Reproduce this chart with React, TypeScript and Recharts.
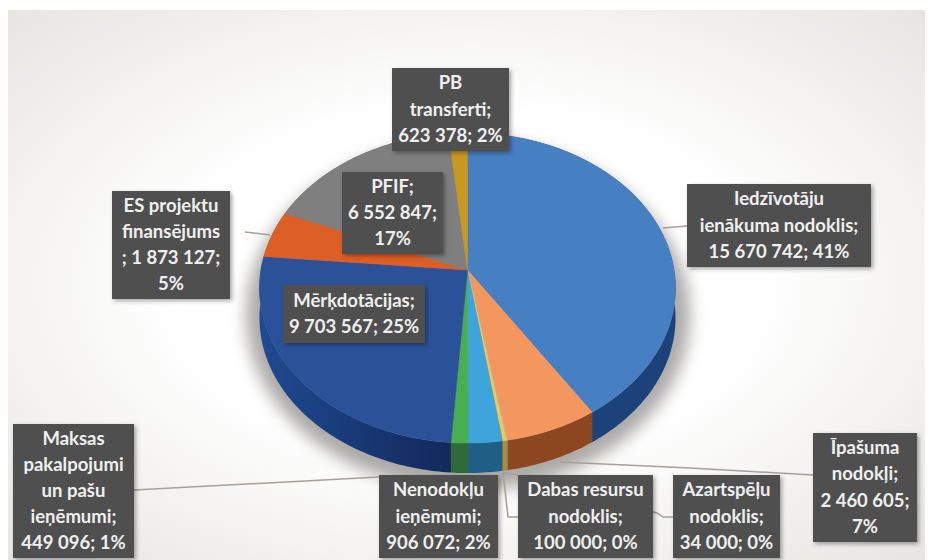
import { Pie, PieChart } from "recharts";

const categories = [
  "Iedzīvotāju ienākuma nodoklis",
  "Īpašuma nodokļi",
  "Azartspēļu nodoklis",
  "Dabas resursu nodoklis",
  "Nenodokļu ieņēmumi",
  "Maksas pakalpojumi un pašu ieņēmumi",
  "Mērķdotācijas",
  "ES projektu finansējums",
  "PFIF",
  "PB transferti",
];
const values = [15670742, 2460605, 34000, 100000, 906072, 449096, 9703567, 1873127, 6552847, 623378];
const labelLines = [
  ["Iedzīvotāju", "ienākuma nodoklis;", "15 670 742; 41%"],
  ["Īpašuma", "nodokļi;", "2 460 605;", "7%"],
  ["Azartspēļu", "nodoklis;", "34 000; 0%"],
  ["Dabas resursu", "nodoklis;", "100 000; 0%"],
  ["Nenodokļu", "ieņēmumi;", "906 072; 2%"],
  ["Maksas", "pakalpojumi", "un pašu", "ieņēmumi;", "449 096; 1%"],
  ["Mērķdotācijas;", "9 703 567; 25%"],
  ["ES projektu", "finansējums", "; 1 873 127;", "5%"],
  ["PFIF;", "6 552 847;", "17%"],
  ["PB", "transferti;", "623 378; 2%"],
];

const topColors = ["#477fc3", "#f4975f", "#b5b5b5", "#f5c84b", "#3da5dc", "#48ae50", "#2b5299", "#de5f26", "#7f7f7f", "#c9981f"];
const wallColors = ["#1c4279", "#8c4620", "#777777", "#b88a20", "#1f5e85", "#2e6b38", "url(#navyWall)", "#8c3c14", "#555555", "#8a6a14"];

// label boxes as [x, y, width, height] on the page
const boxes = [
  [687, 184, 184, 83],
  [813, 433, 104, 109],
  [673, 475, 107, 83],
  [518, 475, 135, 83],
  [379, 475, 119, 83],
  [13, 424, 121, 134],
  [283, 285, 142, 58],
  [112, 191, 118, 108],
  [342, 172, 101, 82],
  [392, 68, 117, 83],
];
const leaders = [
  "663,228 687,226",
  "560,462 690,468 813,475",
  "503,472 517,475 657,513 663,517 673,517",
  "503,472 508,517 518,517",
  "",
  "134,490 379,477",
  "",
  "245,232 270,235",
  "",
  "",
];

const rows = categories.map((name, i) => ({ name, value: values[i] }));

// pie is seen in perspective, so the near side of the disc is bigger than the far side
const CX = 467.5;
const CY = 270;
const DEPTH = 30;
const RX = 206.6;
const RY = 153;
const TILT = 0.116;

function edge(angle: number, cx: number, cy: number) {
  const a = (angle * Math.PI) / 180;
  const u = Math.cos(a);
  const v = -Math.sin(a);
  const w = 1 - TILT * v;
  return [cx + (RX * u) / w, cy + (RY * v) / w];
}

function arcPoints(start: number, end: number, cx: number, cy: number) {
  const n = Math.max(2, Math.ceil(Math.abs(end - start)));
  const pts = [];
  for (let i = 0; i <= n; i++) pts.push(edge(start + ((end - start) * i) / n, cx, cy));
  return pts;
}

function TopSlice(props: any) {
  const i = categories.indexOf(props.name);
  const pts = arcPoints(props.startAngle, props.endAngle, props.cx, props.cy);
  const d = `M${props.cx},${props.cy} ` + pts.map((p) => `L${p[0]},${p[1]}`).join(" ") + " Z";
  return <path d={d} fill={topColors[i]} stroke={topColors[i]} strokeWidth={0.5} />;
}

function WallSlice(props: any) {
  const i = categories.indexOf(props.name);
  const pts = arcPoints(props.startAngle, props.endAngle, props.cx, props.cy);
  const low = [...pts].reverse().map((p) => [p[0], p[1] + DEPTH]);
  const d = [...pts, ...low].map((p, k) => `${k ? "L" : "M"}${p[0]},${p[1]}`).join(" ") + " Z";
  return (
    <g>
      <defs>
        <linearGradient id="navyWall" x1="0" y1="0" x2="1" y2="0">
          <stop offset="0%" stopColor="#1f4a92" />
          <stop offset="100%" stopColor="#12295a" />
        </linearGradient>
      </defs>
      <path d={d} fill={wallColors[i]} />
    </g>
  );
}

function LeaderLine(props: any) {
  const i = categories.indexOf(props.name);
  if (!leaders[i]) return <g />;
  return <polyline points={leaders[i]} fill="none" stroke="#a89f98" strokeWidth={1.5} />;
}

function BoxLabel(props: any) {
  const i = props.index;
  const [x, y, w, h] = boxes[i];
  const lines = labelLines[i];
  const step = 26.2;
  const first = y + h / 2 - ((lines.length - 1) * step) / 2 + 6;
  return (
    <g>
      <rect x={x} y={y} width={w} height={h} fill="#4f4f4f" style={{ filter: "drop-shadow(2px 2px 2px rgba(0,0,0,0.35))" }} />
      <text
        x={x + w / 2}
        textAnchor="middle"
        fontFamily="Lato, sans-serif"
        fontWeight={700}
        fontSize={18.5}
        fill="#efefef"
      >
        {lines.map((t, k) => (
          <tspan key={k} x={x + w / 2} y={first + k * step}>
            {t}
          </tspan>
        ))}
      </text>
    </g>
  );
}

export default function App() {
  const pieProps = {
    data: rows,
    dataKey: "value",
    nameKey: "name",
    cx: CX,
    cy: CY,
    outerRadius: 200,
    startAngle: 90,
    endAngle: -270,
    stroke: "none",
    isAnimationActive: false,
  };

  return (
    <div style={{ position: "absolute", left: 0, top: 0, width: 933, height: 560, background: "#fff", overflow: "hidden" }}>
      <div
        style={{
          position: "absolute",
          left: 8,
          top: 10,
          width: 917,
          height: 550,
          background: "radial-gradient(ellipse at 50% 50%, #ffffff 45%, #e7e5e2 100%)",
        }}
      />
      <div
        style={{
          position: "absolute",
          left: 246,
          top: 140,
          width: 444,
          height: 350,
          borderRadius: "50%",
          background: "rgba(90,85,80,0.5)",
          filter: "blur(8px)",
        }}
      />
      <div style={{ position: "absolute", left: 0, top: 0 }}>
        <PieChart width={933} height={560} margin={{ top: 0, right: 0, bottom: 0, left: 0 }}>
          <Pie {...pieProps} shape={WallSlice} />
          <Pie {...pieProps} shape={TopSlice} />
          <Pie {...pieProps} shape={LeaderLine} label={BoxLabel} labelLine={false} />
        </PieChart>
      </div>
    </div>
  );
}
